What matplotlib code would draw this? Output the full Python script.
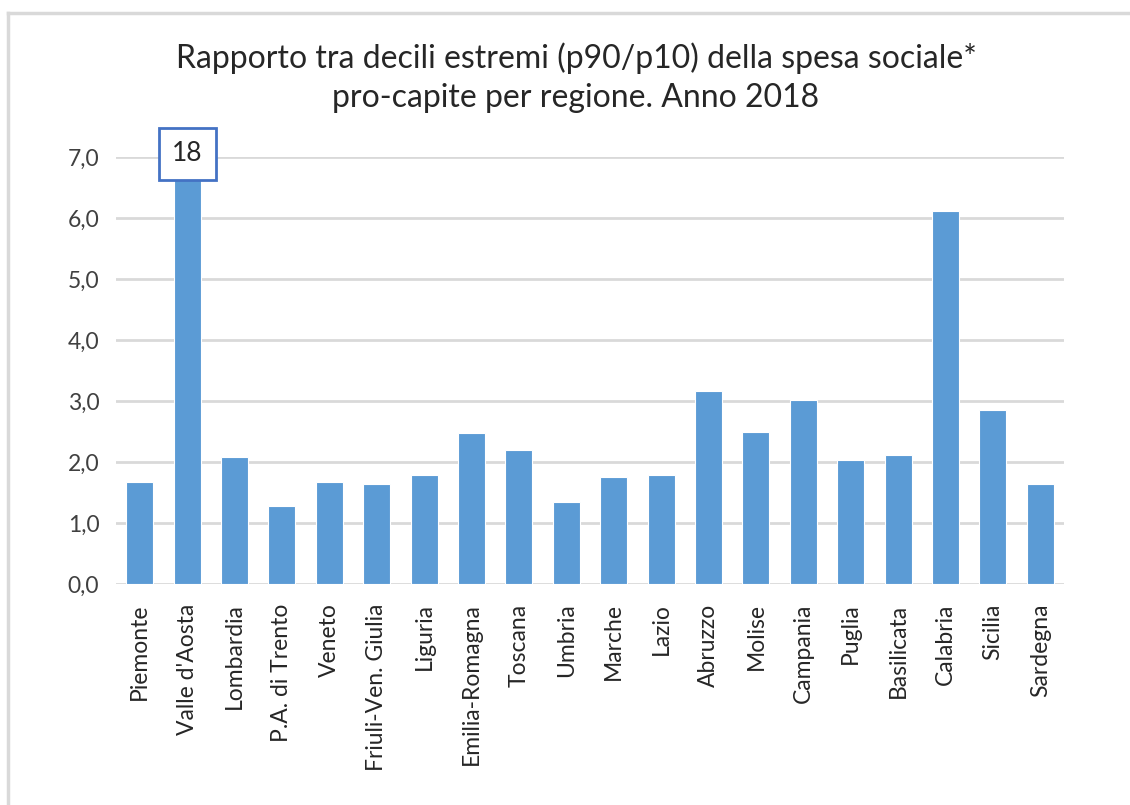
import numpy as np
import matplotlib.pyplot as plt
from matplotlib.lines import Line2D

regioni = ["Piemonte", "Valle d'Aosta", "Lombardia", "P.A. di Trento", "Veneto",
           "Friuli-Ven. Giulia", "Liguria", "Emilia-Romagna", "Toscana", "Umbria",
           "Marche", "Lazio", "Abruzzo", "Molise", "Campania", "Puglia",
           "Basilicata", "Calabria", "Sicilia", "Sardegna"]
rapporto = [1.68, 18.0, 2.08, 1.28, 1.68, 1.64, 1.79, 2.47, 2.20, 1.35,
            1.75, 1.79, 3.16, 2.49, 3.01, 2.04, 2.11, 6.12, 2.85, 1.64]
yticks = [0, 1, 2, 3, 4, 5, 6, 7]

plt.rcParams['font.family'] = ['Lato', 'DejaVu Sans']

fig = plt.figure(figsize=(11.3, 8.05), dpi=100)
ax = fig.add_axes([116/1130, 1-584/805, (1064-116)/1130, (584-157)/805])

x = np.arange(len(regioni))
ax.bar(x, rapporto, width=0.57, color='#5B9BD5', edgecolor='white', linewidth=0.8, zorder=3)

ax.set_xlim(-0.5, len(regioni)-0.5)
ax.set_ylim(0, 7)
ax.set_yticks(yticks)
ax.set_yticklabels([("%.1f" % v).replace('.', ',') for v in yticks], fontsize=16.5, color='#404040')
ax.set_xticks(x)
ax.set_xticklabels(regioni, rotation=90, fontsize=16.5, color='#262626', va='top')
ax.tick_params(length=0)
ax.tick_params(axis='x', pad=14)
ax.tick_params(axis='y', pad=12)
ax.grid(axis='y', color='#D9D9D9', linewidth=2, zorder=0)
for s in ax.spines.values():
    s.set_visible(False)

# value out of scale for Valle d'Aosta
imax = int(np.argmax(rapporto))
ax.text(x[imax], 7.05, "%d" % rapporto[imax], ha='center', va='center', fontsize=19,
        color='#262626', zorder=5, clip_on=False,
        bbox=dict(boxstyle='square,pad=0.5', facecolor='white', edgecolor='#4472C4', linewidth=2))

fig.text(576/1130, 1-58/805, "Rapporto tra decili estremi (p90/p10) della spesa sociale*",
         ha='center', va='center', fontsize=23, color='#262626')
fig.text(576/1130, 1-98/805, "pro-capite per regione. Anno 2018",
         ha='center', va='center', fontsize=23, color='#262626')

# chart frame
fig.add_artist(Line2D([8/1130, 1], [1-13/805, 1-13/805], color='#D9D9D9', linewidth=2.5))
fig.add_artist(Line2D([8/1130, 8/1130], [0, 1-13/805], color='#D9D9D9', linewidth=2.5))

fig.savefig('out.png', dpi=100)
